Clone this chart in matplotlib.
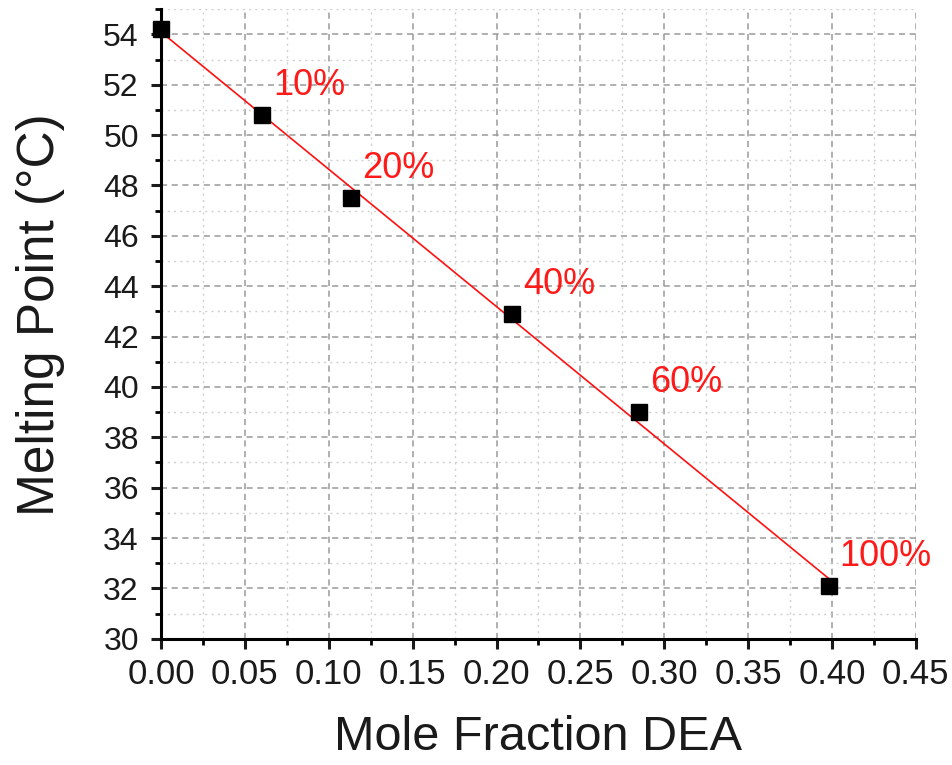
"""Melting point vs. mole fraction of DEA with linear fit."""

import matplotlib
matplotlib.use("Agg")
import matplotlib.pyplot as plt
from matplotlib.ticker import MultipleLocator
import numpy as np

plt.rcParams["font.family"] = ["Liberation Sans", "DejaVu Sans"]

# Measured points
mole_fraction = [0.0, 0.060, 0.113, 0.209, 0.285, 0.398]
melting_point = [54.2, 50.8, 47.5, 42.9, 39.0, 32.1]
point_labels = ["", "10%", "20%", "40%", "60%", "100%"]

fig = plt.figure(figsize=(9.53, 7.65), dpi=100)
ax = fig.add_axes([0.169, 0.165, 0.792, 0.823])

# Linear fit through the data
slope, intercept = np.polyfit(mole_fraction, melting_point, 1)
fit_x = np.array([min(mole_fraction), max(mole_fraction)])
ax.plot(fit_x, slope * fit_x + intercept, color="#ff1010", linewidth=1.2, zorder=3)

ax.plot(mole_fraction, melting_point, "s", color="black", markersize=11, zorder=4,
        clip_on=False)

for xv, yv, lab in zip(mole_fraction, melting_point, point_labels):
    if lab:
        ax.annotate(lab, (xv, yv), xytext=(8, 21), textcoords="offset points",
                    color="#ff1a1a", fontsize=26, va="center", ha="left")

ax.set_xlim(0, 0.45)
ax.set_ylim(30, 55)
ax.xaxis.set_major_locator(MultipleLocator(0.05))
ax.xaxis.set_minor_locator(MultipleLocator(0.025))
ax.set_yticks(np.arange(30, 55, 2))
ax.yaxis.set_minor_locator(MultipleLocator(1))
ax.xaxis.set_major_formatter(plt.FormatStrFormatter("%.2f"))

ax.grid(which="major", color="#9a9a9a", linestyle=(0, (4, 3)), linewidth=1.1)
ax.grid(which="minor", color="#d0d0d0", linestyle=(0, (1.5, 3)), linewidth=1.0)
ax.set_axisbelow(True)

for side in ("top", "right"):
    ax.spines[side].set_visible(False)
for side in ("left", "bottom"):
    ax.spines[side].set_linewidth(2.2)

ax.tick_params(which="major", direction="out", length=7, width=2.2,
               colors="#1a1a1a")
ax.tick_params(axis="x", which="major", pad=7, labelsize=25)
ax.tick_params(axis="y", which="major", pad=9, labelsize=23)
ax.tick_params(which="minor", direction="out", length=4, width=2.0)

ax.set_xlabel("Mole Fraction DEA", fontsize=35, color="#1a1a1a", va="center")
ax.set_ylabel("Melting Point (°C)", fontsize=37, color="#1a1a1a", va="center")
ax.xaxis.set_label_coords(0.5, -0.157)
ax.yaxis.set_label_coords(-0.160, 0.514)

fig.savefig("out.png", dpi=100, facecolor="white")
